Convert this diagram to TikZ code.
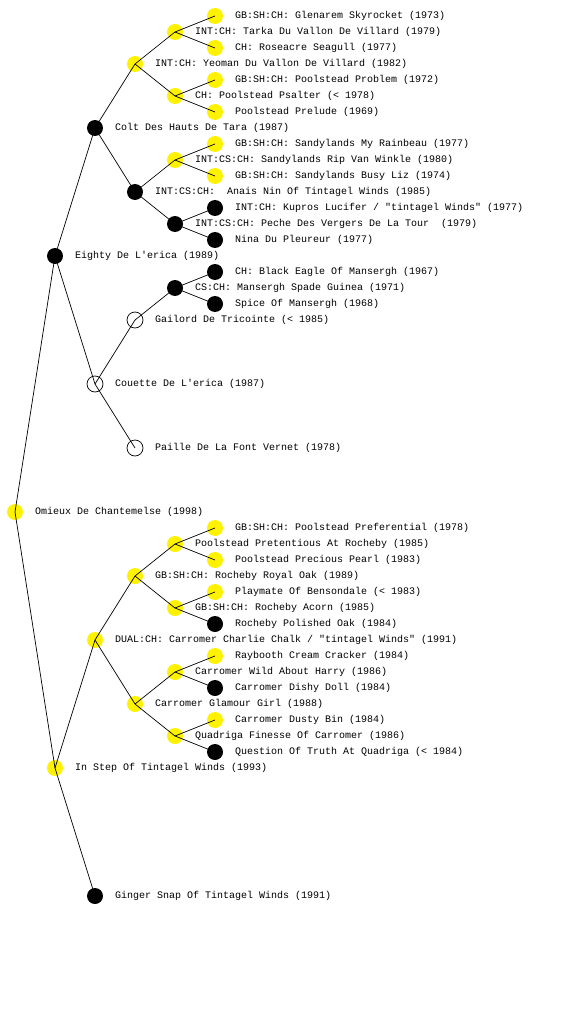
\documentclass[tikz,border=0pt]{standalone}
\usepackage{fontspec}
\newfontfamily\pedfont{Liberation Mono}
\begin{document}
\begin{tikzpicture}[
  x=1pt, y=-1pt,
  label distance=12pt,
  every label/.style={inner sep=0pt, font=\pedfont\fontsize{10}{12}\selectfont},
  dog/.style={circle, minimum size=16pt, inner sep=0pt, outer sep=0pt},
  yel/.style={dog, fill=yellow},
  blk/.style={dog, fill=black},
  wht/.style={dog, draw=black, line width=0.7pt},
  link/.style={line width=0.7pt}
]
\useasboundingbox (0,0) rectangle (560,1024);
\node[yel, label={right:{Omieux De Chantemelse (1998)}}] (omieux) at (15,512) {};
\node[blk, label={right:{Eighty De L'erica (1989)}}] (eighty) at (55,256) {};
\node[yel, label={right:{In Step Of Tintagel Winds (1993)}}] (instep) at (55,768) {};
\node[blk, label={right:{Colt Des Hauts De Tara (1987)}}] (colt) at (95,128) {};
\node[wht, label={right:{Couette De L'erica (1987)}}] (couette) at (95,384) {};
\node[yel, label={right:{DUAL:CH: Carromer Charlie Chalk / "tintagel Winds" (1991)}}] (charlie) at (95,640) {};
\node[blk, label={right:{Ginger Snap Of Tintagel Winds (1991)}}] (ginger) at (95,896) {};
\node[yel, label={right:{INT:CH: Yeoman Du Vallon De Villard (1982)}}] (yeoman) at (135,64) {};
\node[blk, label={right:{INT:CS:CH:~ Anais Nin Of Tintagel Winds (1985)}}] (anais) at (135,192) {};
\node[wht, label={right:{Gailord De Tricointe (< 1985)}}] (gailord) at (135,320) {};
\node[wht, label={right:{Paille De La Font Vernet (1978)}}] (paille) at (135,448) {};
\node[yel, label={right:{GB:SH:CH: Rocheby Royal Oak (1989)}}] (royaloak) at (135,576) {};
\node[yel, label={right:{Carromer Glamour Girl (1988)}}] (glamour) at (135,704) {};
\node[yel, label={right:{INT:CH: Tarka Du Vallon De Villard (1979)}}] (tarka) at (175,32) {};
\node[yel, label={right:{CH: Poolstead Psalter (< 1978)}}] (psalter) at (175,96) {};
\node[yel, label={right:{INT:CS:CH: Sandylands Rip Van Winkle (1980)}}] (ripvan) at (175,160) {};
\node[blk, label={right:{INT:CS:CH: Peche Des Vergers De La Tour~ (1979)}}] (peche) at (175,224) {};
\node[blk, label={right:{CS:CH: Mansergh Spade Guinea (1971)}}] (spade) at (175,288) {};
\node[yel, label={right:{Poolstead Pretentious At Rocheby (1985)}}] (pretentious) at (175,544) {};
\node[yel, label={right:{GB:SH:CH: Rocheby Acorn (1985)}}] (acorn) at (175,608) {};
\node[yel, label={right:{Carromer Wild About Harry (1986)}}] (wildharry) at (175,672) {};
\node[yel, label={right:{Quadriga Finesse Of Carromer (1986)}}] (quadriga) at (175,736) {};
\node[yel, label={right:{GB:SH:CH: Glenarem Skyrocket (1973)}}] (glenarem) at (215,16) {};
\node[yel, label={right:{CH: Roseacre Seagull (1977)}}] (roseacre) at (215,48) {};
\node[yel, label={right:{GB:SH:CH: Poolstead Problem (1972)}}] (problem) at (215,80) {};
\node[yel, label={right:{Poolstead Prelude (1969)}}] (prelude) at (215,112) {};
\node[yel, label={right:{GB:SH:CH: Sandylands My Rainbeau (1977)}}] (rainbeau) at (215,144) {};
\node[yel, label={right:{GB:SH:CH: Sandylands Busy Liz (1974)}}] (busyliz) at (215,176) {};
\node[blk, label={right:{INT:CH: Kupros Lucifer / "tintagel Winds" (1977)}}] (kupros) at (215,208) {};
\node[blk, label={right:{Nina Du Pleureur (1977)}}] (nina) at (215,240) {};
\node[blk, label={right:{CH: Black Eagle Of Mansergh (1967)}}] (blackeagle) at (215,272) {};
\node[blk, label={right:{Spice Of Mansergh (1968)}}] (spice) at (215,304) {};
\node[yel, label={right:{GB:SH:CH: Poolstead Preferential (1978)}}] (preferential) at (215,528) {};
\node[yel, label={right:{Poolstead Precious Pearl (1983)}}] (pearl) at (215,560) {};
\node[yel, label={right:{Playmate Of Bensondale (< 1983)}}] (playmate) at (215,592) {};
\node[blk, label={right:{Rocheby Polished Oak (1984)}}] (polished) at (215,624) {};
\node[yel, label={right:{Raybooth Cream Cracker (1984)}}] (raybooth) at (215,656) {};
\node[blk, label={right:{Carromer Dishy Doll (1984)}}] (dishy) at (215,688) {};
\node[yel, label={right:{Carromer Dusty Bin (1984)}}] (dustybin) at (215,720) {};
\node[blk, label={right:{Question Of Truth At Quadriga (< 1984)}}] (question) at (215,752) {};
\draw[link] (omieux.center) -- (eighty.center);
\draw[link] (omieux.center) -- (instep.center);
\draw[link] (eighty.center) -- (colt.center);
\draw[link] (eighty.center) -- (couette.center);
\draw[link] (instep.center) -- (charlie.center);
\draw[link] (instep.center) -- (ginger.center);
\draw[link] (colt.center) -- (yeoman.center);
\draw[link] (colt.center) -- (anais.center);
\draw[link] (couette.center) -- (gailord.center);
\draw[link] (couette.center) -- (paille.center);
\draw[link] (charlie.center) -- (royaloak.center);
\draw[link] (charlie.center) -- (glamour.center);
\draw[link] (yeoman.center) -- (tarka.center);
\draw[link] (yeoman.center) -- (psalter.center);
\draw[link] (anais.center) -- (ripvan.center);
\draw[link] (anais.center) -- (peche.center);
\draw[link] (gailord.center) -- (spade.center);
\draw[link] (royaloak.center) -- (pretentious.center);
\draw[link] (royaloak.center) -- (acorn.center);
\draw[link] (glamour.center) -- (wildharry.center);
\draw[link] (glamour.center) -- (quadriga.center);
\draw[link] (tarka.center) -- (glenarem.center);
\draw[link] (tarka.center) -- (roseacre.center);
\draw[link] (psalter.center) -- (problem.center);
\draw[link] (psalter.center) -- (prelude.center);
\draw[link] (ripvan.center) -- (rainbeau.center);
\draw[link] (ripvan.center) -- (busyliz.center);
\draw[link] (peche.center) -- (kupros.center);
\draw[link] (peche.center) -- (nina.center);
\draw[link] (spade.center) -- (blackeagle.center);
\draw[link] (spade.center) -- (spice.center);
\draw[link] (pretentious.center) -- (preferential.center);
\draw[link] (pretentious.center) -- (pearl.center);
\draw[link] (acorn.center) -- (playmate.center);
\draw[link] (acorn.center) -- (polished.center);
\draw[link] (wildharry.center) -- (raybooth.center);
\draw[link] (wildharry.center) -- (dishy.center);
\draw[link] (quadriga.center) -- (dustybin.center);
\draw[link] (quadriga.center) -- (question.center);
\end{tikzpicture}
\end{document}
